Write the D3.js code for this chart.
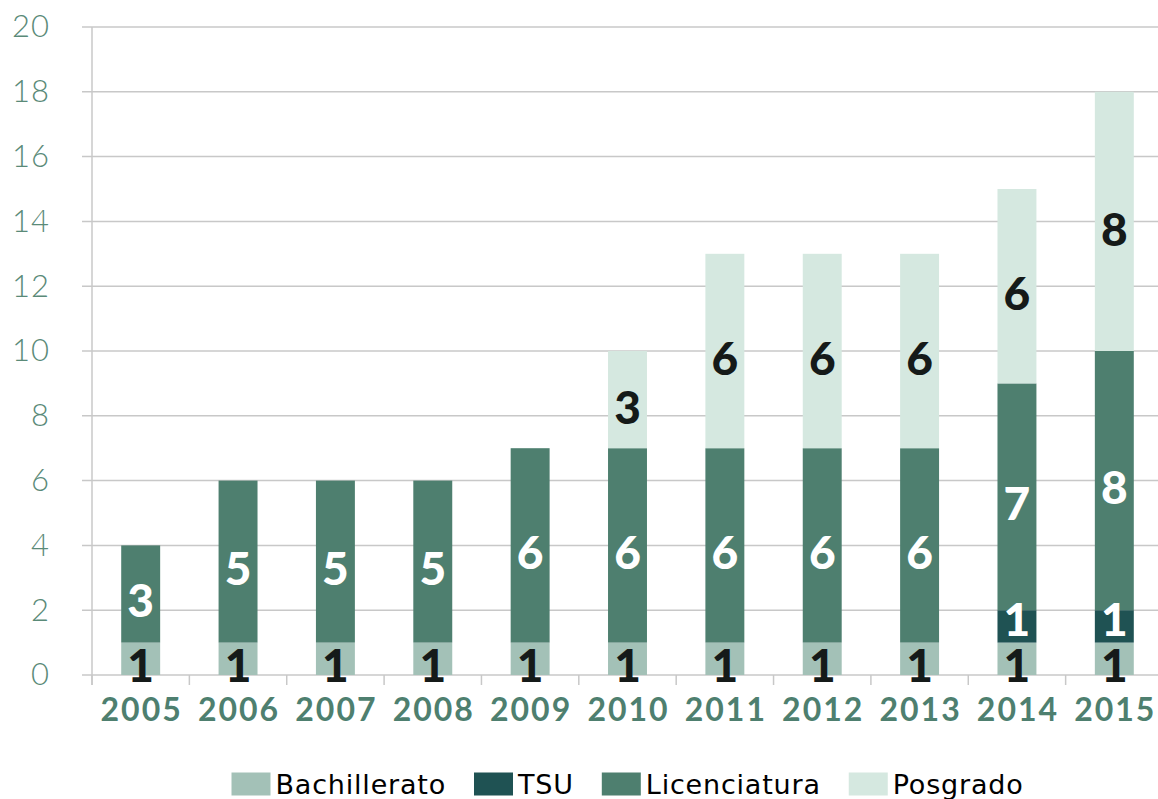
<!DOCTYPE html>
<html>
<head>
<meta charset="utf-8">
<script src="https://cdn.jsdelivr.net/npm/d3@7"></script>
<style>
  html, body { margin: 0; padding: 0; background: #fff; }
  svg { display: block; }
</style>
</head>
<body>
<div id="chart"></div>
<script>
const years = ['2005', '2006', '2007', '2008', '2009', '2010', '2011', '2012', '2013', '2014', '2015'];
const seriesNames = ['Bachillerato', 'TSU', 'Licenciatura', 'Posgrado'];
const bachillerato = [1, 1, 1, 1, 1, 1, 1, 1, 1, 1, 1];
const tsu = [0, 0, 0, 0, 0, 0, 0, 0, 0, 1, 1];
const licenciatura = [3, 5, 5, 5, 6, 6, 6, 6, 6, 7, 8];
const posgrado = [0, 0, 0, 0, 0, 3, 6, 6, 6, 6, 8];
const yTicks = [0, 2, 4, 6, 8, 10, 12, 14, 16, 18, 20];

// colours
const colors = {
  Bachillerato: '#a3c1b7',
  TSU: '#1f5253',
  Licenciatura: '#4e7f6f',
  Posgrado: '#d5e8e0'
};
const labelColors = {
  Bachillerato: '#151a19',
  TSU: '#ffffff',
  Licenciatura: '#ffffff',
  Posgrado: '#151a19'
};
// small vertical nudge of the value labels, per series
const labelNudge = {
  Bachillerato: 7,
  TSU: -7,
  Licenciatura: 7,
  Posgrado: 8
};
const tickColor = '#5a8a78';
const gridColor = '#c8c8c8';

const width = 1158;
const height = 799;
const margin = { top: 27, right: -5, bottom: 124, left: 92 };

const table = years.map((year, i) => ({
  year,
  Bachillerato: bachillerato[i],
  TSU: tsu[i],
  Licenciatura: licenciatura[i],
  Posgrado: posgrado[i]
}));

const stacked = d3.stack().keys(seriesNames)(table);

const x = d3
  .scaleBand()
  .domain(years)
  .range([margin.left, width - margin.right])
  .paddingInner(0.6)
  .paddingOuter(0.3);

const y = d3
  .scaleLinear()
  .domain([0, 20])
  .range([height - margin.bottom, margin.top]);

const svg = d3
  .select('#chart')
  .append('svg')
  .attr('width', width)
  .attr('height', height);

// horizontal grid
svg
  .append('g')
  .attr('class', 'grid')
  .selectAll('line')
  .data(yTicks)
  .join('line')
  .attr('x1', margin.left - 10)
  .attr('x2', width)
  .attr('y1', (d) => y(d))
  .attr('y2', (d) => y(d))
  .attr('stroke', gridColor)
  .attr('stroke-width', 1.5);

// y axis labels
const yAxis = d3.axisLeft(y).tickValues(yTicks).tickSize(0).tickPadding(42);
svg
  .append('g')
  .attr('transform', `translate(${margin.left},0)`)
  .call(yAxis)
  .call((g) => g.select('.domain').remove())
  .call((g) =>
    g
      .selectAll('text')
      .attr('fill', tickColor)
      .style('font-family', 'Lato, sans-serif')
      .style('font-weight', 300)
      .style('font-size', '31px')
      .style('letter-spacing', '1px')
  );

// left vertical axis line
svg
  .append('line')
  .attr('x1', margin.left)
  .attr('x2', margin.left)
  .attr('y1', y(20))
  .attr('y2', y(0) + 10)
  .attr('stroke', gridColor)
  .attr('stroke-width', 1.5);

// x axis ticks at band boundaries
const step = x.step();
const boundaries = d3.range(years.length + 1).map((i) => margin.left + i * step);
svg
  .append('g')
  .selectAll('line')
  .data(boundaries)
  .join('line')
  .attr('x1', (d) => d)
  .attr('x2', (d) => d)
  .attr('y1', y(0))
  .attr('y2', y(0) + 10)
  .attr('stroke', gridColor)
  .attr('stroke-width', 1.5);

// x axis labels
svg
  .append('g')
  .selectAll('text')
  .data(years)
  .join('text')
  .attr('x', (d) => x(d) + x.bandwidth() / 2 + 1)
  .attr('y', y(0) + 46)
  .attr('text-anchor', 'middle')
  .attr('fill', '#4e7f6f')
  .style('font-family', 'Lato, sans-serif')
  .style('font-weight', 700)
  .style('font-size', '32px')
  .style('letter-spacing', '2px')
  .text((d) => d);

// bars
const layers = svg
  .append('g')
  .attr('class', 'bars')
  .selectAll('g')
  .data(stacked)
  .join('g')
  .attr('fill', (d) => colors[d.key]);

layers
  .selectAll('rect')
  .data((d) => d)
  .join('rect')
  .attr('x', (d) => x(d.data.year))
  .attr('width', x.bandwidth())
  .attr('y', (d) => y(d[1]))
  .attr('height', (d) => y(d[0]) - y(d[1]));

// value labels
svg
  .append('g')
  .attr('class', 'values')
  .selectAll('g')
  .data(stacked)
  .join('g')
  .attr('fill', (d) => labelColors[d.key])
  .each(function (layer) {
    d3.select(this)
      .selectAll('text')
      .data(layer.filter((s) => s[1] - s[0] > 0))
      .join('text')
      .attr('x', (d) => x(d.data.year) + x.bandwidth() / 2)
      .attr('y', (d) => (y(d[0]) + y(d[1])) / 2 + labelNudge[layer.key])
      .attr('dy', '0.35em')
      .attr('text-anchor', 'middle')
      .style('font-family', 'Lato, sans-serif')
      .style('font-weight', 900)
      .style('font-size', '46px')
      .text((d) => d[1] - d[0]);
  });

// legend
const legend = svg.append('g').attr('class', 'legend');
const swatchW = 39;
const swatchH = 23;
const itemGap = 28;
let cursor = 0;
seriesNames.forEach((name) => {
  const g = legend.append('g');
  g.append('rect')
    .attr('width', swatchW)
    .attr('height', swatchH)
    .attr('y', -swatchH / 2)
    .attr('fill', colors[name]);
  const t = g
    .append('text')
    .attr('x', swatchW + 5)
    .attr('dy', '0.36em')
    .attr('fill', '#000')
    .style('font-family', '"DejaVu Sans", sans-serif')
    .style('font-size', '27px')
    .style('letter-spacing', '0.8px')
    .text(name);
  const w = swatchW + 5 + t.node().getComputedTextLength();
  g.attr('transform', `translate(${cursor},0)`);
  cursor += w + itemGap;
});
const legendWidth = cursor - itemGap;
const plotCenter = (margin.left + width - margin.right) / 2;
legend.attr('transform', `translate(${plotCenter - legendWidth / 2},${784})`);
</script>
</body>
</html>
